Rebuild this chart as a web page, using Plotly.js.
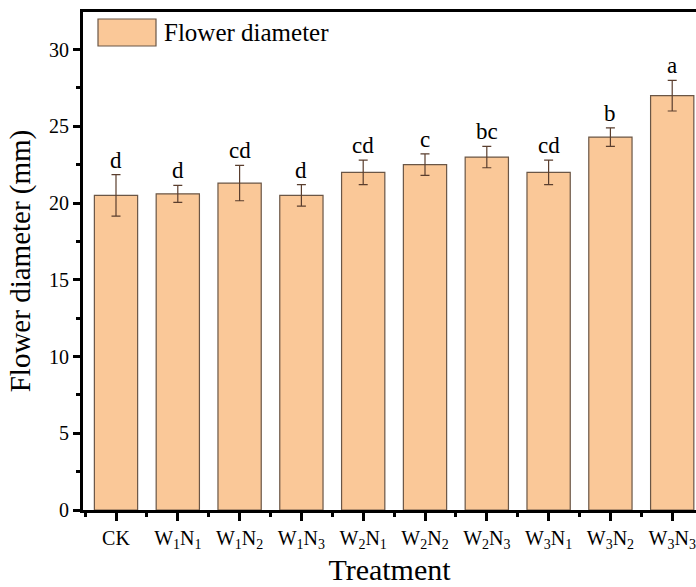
<!DOCTYPE html>
<html>
<head>
<meta charset="utf-8">
<script src="https://cdn.plot.ly/plotly-3.0.1.min.js"></script>
<style>html,body{margin:0;padding:0;background:#fff;}#chart{width:696px;height:587px;}</style>
</head>
<body>
<div id="chart"></div>
<script>
const categories = ["CK","W<sub>1</sub>N<sub>1</sub>","W<sub>1</sub>N<sub>2</sub>","W<sub>1</sub>N<sub>3</sub>","W<sub>2</sub>N<sub>1</sub>","W<sub>2</sub>N<sub>2</sub>","W<sub>2</sub>N<sub>3</sub>","W<sub>3</sub>N<sub>1</sub>","W<sub>3</sub>N<sub>2</sub>","W<sub>3</sub>N<sub>3</sub>"];
const diameter = [20.5, 20.6, 21.3, 20.5, 22.0, 22.5, 23.0, 22.0, 24.3, 27.0];
const errors = [1.35, 0.55, 1.15, 0.7, 0.8, 0.7, 0.7, 0.8, 0.6, 1.0];
const letters = ["d","d","cd","d","cd","c","bc","cd","b","a"];
const seriesName = "Flower diameter";

const FONT = "Liberation Serif, Times New Roman, serif";
const fill = "#FAC898";
const edge = "#6a5646";
const idx = categories.map((c, i) => i);

const trace = {
  type: "bar",
  x: idx,
  y: diameter,
  width: 0.7,
  name: seriesName,
  showlegend: false,
  marker: { color: fill, line: { color: edge, width: 1.2 } },
  error_y: { type: "data", array: errors, visible: true, color: "#5a3e2e", thickness: 1.2, width: 4.5 }
};

const annotations = idx.map(i => ({
  x: i, y: diameter[i] + errors[i], xref: "x", yref: "y",
  text: letters[i], showarrow: false, yanchor: "bottom", yshift: 0,
  font: { family: FONT, size: 23, color: "#000" }
}));

const L = 83, T = 12, W = 696 - 83, H = 498;
const px = v => (v - L) / W;
const py = v => (T + H - v) / H;

annotations.push({
  xref: "paper", yref: "paper", x: px(162), y: py(33), xanchor: "left", yanchor: "middle",
  text: seriesName, showarrow: false, font: { family: FONT, size: 25, color: "#000" }
});

const layout = {
  width: 696, height: 587,
  margin: { l: L, r: 0, t: T, b: 587 - T - H, pad: 0 },
  paper_bgcolor: "#fff", plot_bgcolor: "#fff",
  font: { family: FONT, color: "#000" },
  showlegend: false,
  bargap: 0.3,
  xaxis: {
    range: [-0.534, 9.385],
    tickmode: "array", tickvals: idx, ticktext: categories,
    ticks: "outside", ticklen: 8, tickwidth: 3, tickcolor: "#000",
    minor: { tickmode: "linear", tick0: 0.5, dtick: 1, ticks: "outside", ticklen: 4, tickwidth: 3, tickcolor: "#000" },
    showline: true, linewidth: 3, linecolor: "#000", mirror: true,
    showgrid: false, zeroline: false,
    tickfont: { family: FONT, size: 20, color: "#000" },
    title: { text: "Treatment", font: { family: FONT, size: 30, color: "#000" }, standoff: 8 }
  },
  yaxis: {
    range: [0, 32.45],
    tickmode: "linear", tick0: 0, dtick: 5,
    ticks: "outside", ticklen: 7, tickwidth: 3, tickcolor: "#000",
    minor: { tickmode: "linear", tick0: 2.5, dtick: 5, ticks: "outside", ticklen: 4, tickwidth: 3, tickcolor: "#000" },
    showline: true, linewidth: 3, linecolor: "#000", mirror: false,
    showgrid: false, zeroline: false,
    tickfont: { family: FONT, size: 20, color: "#000" },
    title: { text: "Flower diameter (mm)", font: { family: FONT, size: 29, color: "#000" }, standoff: 10 }
  },
  shapes: [{
    type: "rect", xref: "paper", yref: "paper",
    x0: px(98), x1: px(156), y0: py(46), y1: py(19),
    fillcolor: fill, line: { color: edge, width: 1.2 }
  }],
  annotations: annotations
};

Plotly.newPlot("chart", [trace], layout, { displayModeBar: false, staticPlot: true });
</script>
</body>
</html>
